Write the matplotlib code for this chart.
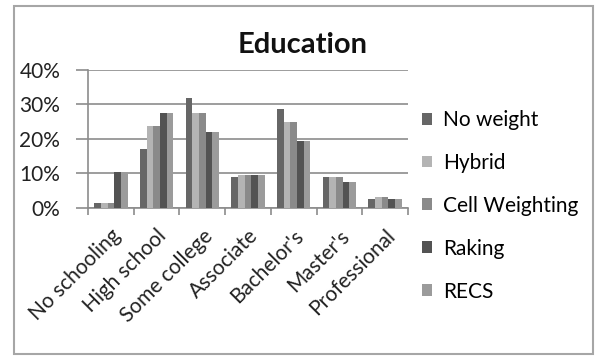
import matplotlib
matplotlib.use("Agg")
import matplotlib.pyplot as plt
from matplotlib.patches import Rectangle, Patch
import numpy as np

plt.rcParams['font.family'] = ['Lato', 'DejaVu Sans']

categories = ["No schooling", "High school", "Some college", "Associate",
              "Bachelor's", "Master's", "Professional"]
series_names = ["No weight", "Hybrid", "Cell Weighting", "Raking", "RECS"]
no_weight = [1.3, 17.0, 32.0, 8.8, 28.6, 8.8, 2.4]
hybrid = [1.3, 23.8, 27.4, 9.5, 25.0, 8.8, 3.1]
cell_weighting = [1.3, 23.8, 27.4, 9.5, 25.0, 8.8, 3.1]
raking = [10.5, 27.4, 22.1, 9.5, 19.5, 7.6, 2.4]
recs = [10.5, 27.4, 22.1, 9.5, 19.5, 7.6, 2.4]
y_ticks = [0, 10, 20, 30, 40]

colors = ["#666666", "#b4b4b4", "#8a8a8a", "#535353", "#9b9b9b"]
series = [no_weight, hybrid, cell_weighting, raking, recs]

W, H = 595, 356
fs = 15
fig = plt.figure(figsize=(W / 100, H / 100), dpi=100)
ax = fig.add_axes([88 / W, (H - 207.7) / H, (408 - 88) / W, (207.7 - 70) / H])

x = np.arange(len(categories))
bw = 0.146
for i, (vals, c) in enumerate(zip(series, colors)):
    ax.bar(x + (i - 2) * bw, vals, width=bw, color=c, linewidth=0, zorder=3,
           label=series_names[i])

ax.set_xlim(-0.5, len(categories) - 0.5)
ax.set_ylim(0, 40)
ax.set_yticks(y_ticks)
ax.set_yticklabels([f"{v}%" for v in y_ticks], fontsize=fs, color="#222222")
ax.yaxis.grid(True, color="#8c8c8c", linewidth=1.2, zorder=0)
ax.tick_params(axis='y', length=9, width=1.2, color="#8c8c8c", pad=11)

ax.set_xticks(np.arange(len(categories) + 1) - 0.5)
ax.set_xticklabels([])
ax.set_xticks(x, minor=True)
ax.set_xticklabels(categories, minor=True, rotation=45, ha='right', va='top',
                   rotation_mode='anchor', fontsize=fs, color="#222222")
ax.tick_params(axis='x', which='major', length=5, width=1.2, color="#8c8c8c")
ax.tick_params(axis='x', which='minor', length=0, pad=13)

for s in ['top', 'right']:
    ax.spines[s].set_visible(False)
for s in ['left', 'bottom']:
    ax.spines[s].set_color("#8c8c8c")
    ax.spines[s].set_linewidth(1.2)

fig.text(303 / W, 1 - 45 / H, "Education", ha='center', va='center',
         fontsize=21, fontweight='bold', color="#111111")

handles = [Patch(facecolor=c, edgecolor='none') for c in colors]
fig.legend(handles, series_names, loc='upper left',
           bbox_to_anchor=(422 / W, 1 - 110 / H), frameon=False,
           fontsize=fs, handlelength=0.5, handleheight=0.5,
           handletextpad=0.5, labelspacing=1.1, borderpad=0, borderaxespad=0)

fig.patches.append(Rectangle((14 / W, 2 / H), (593 - 14) / W, (350 - 2) / H,
                             transform=fig.transFigure, fill=False,
                             edgecolor="#a6a6a6", linewidth=1.5))

fig.savefig("out.png", dpi=100, facecolor="white")
